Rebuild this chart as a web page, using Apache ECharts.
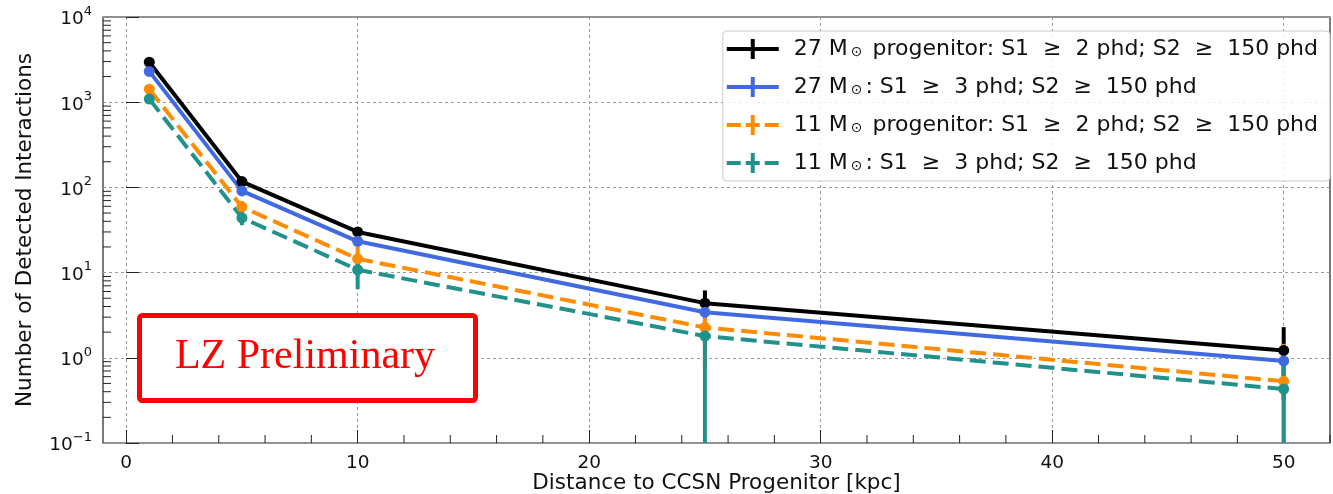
<!DOCTYPE html>
<html>
<head>
<meta charset="utf-8">
<script src="https://cdn.jsdelivr.net/npm/echarts@6/dist/echarts.min.js"></script>
<style>
  html, body { margin: 0; padding: 0; background: #fff; }
  #chart { width: 1333px; height: 494px; }
</style>
</head>
<body>
<div id="chart"></div>
<script>
// distance to the supernova, kpc
const distances = [1, 5, 10, 25, 50]

// 27 Msun progenitor, S1 >= 2 phd
const black = [2950, 117, 30, 4.38, 1.22]
const blackLo = [150, 12, 4, 1.5, 0.9]
const blackHi = [150, 12, 4, 1.8, 1.07]
// 27 Msun, S1 >= 3 phd
const blue = [2300, 91, 23.3, 3.43, 0.92]
const blueLo = [120, 9, 3, 1.2, 0.5]
const blueHi = [120, 9, 3, 0.9, 0.5]
// 11 Msun progenitor, S1 >= 2 phd
const orange = [1420, 59, 14.5, 2.27, 0.53]
const orangeLo = [100, 10, 5, 1.5, 0.5]
const orangeHi = [100, 10, 5.5, 0.7, 0.93]
// 11 Msun, S1 >= 3 phd
const teal = [1090, 44, 10.8, 1.8, 0.43]
const tealLo = [80, 8, 4.4, 1.8, 0.43]
const tealHi = [80, 9, 4, 0.5, 0.45]

const masses = ["27", "27", "11", "11"]
const cuts = [
  " progenitor: S1  \u2265  2 phd; S2  \u2265  150 phd",
  ": S1  \u2265  3 phd; S2  \u2265  150 phd",
  " progenitor: S1  \u2265  2 phd; S2  \u2265  150 phd",
  ": S1  \u2265  3 phd; S2  \u2265  150 phd",
]
const colors = ["#000000", "#4169e1", "#ff8c00", "#21918c"]

const xTicks = [0, 10, 20, 30, 40, 50]
const xMinorTicks = [2, 4, 6, 8, 12, 14, 16, 18, 22, 24, 26, 28, 32, 34, 36, 38, 42, 44, 46, 48, 52]
const yMin = 0.1
const yMax = 10000
// log minor ticks 2..9 x 10^k
const yMinorTicks = []
for (let k = -1; k < 4; k++) {
  for (let m = 2; m < 10; m++) yMinorTicks.push(+(m * Math.pow(10, k)).toPrecision(3))
}

const font = "DejaVu Sans"
const names = masses.map((m, i) => m + " M\u2299" + cuts[i])

const solidIcon = "path://M0,8h52v4h-52z M24,0h4v20h-4z"
const dashIcon = "path://M0,8h14v4h-14z M19,8h14v4h-14z M38,8h14v4h-14z M24,0h4v20h-4z"

const myChart = echarts.init(document.getElementById("chart"))

// 误差棒
const errorBars = (i, vals, lo, hi) => ({
  type: "custom",
  name: "err" + i,
  z: 2,
  silent: true,
  data: distances.map((d, j) => [d, vals[j], Math.max(vals[j] - lo[j], yMin), vals[j] + hi[j]]),
  encode: { x: 0, y: [1, 2, 3] },
  renderItem: (params, api) => {
    const top = api.coord([api.value(0), api.value(3)])
    const bot = api.coord([api.value(0), api.value(2)])
    return {
      type: "line",
      shape: { x1: top[0], y1: top[1], x2: bot[0], y2: bot[1] },
      style: { stroke: colors[i], lineWidth: 4 },
    }
  },
})

const lineSeries = (i, vals, dashed) => ({
  type: "line",
  name: names[i],
  z: 3,
  data: distances.map((d, j) => [d, vals[j]]),
  symbol: "circle",
  symbolSize: 11,
  itemStyle: { color: colors[i] },
  lineStyle: { color: colors[i], width: 4, type: dashed ? [16, 7] : "solid" },
  emphasis: { disabled: true },
})

// 次刻度
const minorTicks = {
  type: "custom",
  silent: true,
  z: 4,
  data: [
    ...yMinorTicks.map((v) => [1, v, 0]),
    ...xMinorTicks.map((v) => [v, 1, 1]),
  ],
  renderItem: (params, api) => {
    const cs = params.coordSys
    const p = api.coord([api.value(0), api.value(1)])
    const shape = api.value(2) === 0
      ? { x1: cs.x, y1: p[1], x2: cs.x + 8, y2: p[1] }
      : { x1: p[0], y1: cs.y + cs.height, x2: p[0], y2: cs.y + cs.height - 8 }
    return { type: "line", shape, style: { stroke: "#222", lineWidth: 1 } }
  },
}

const option = {
  animation: false,
  grid: {
    left: 103, right: 3, top: 17, bottom: 51,
    outerBoundsMode: "none",
    containLabel: false,
    show: true, borderColor: "#222", borderWidth: 1.2,
  },
  xAxis: {
    type: "value",
    min: -1,
    max: 52,
    name: "Distance to CCSN Progenitor [kpc]",
    nameLocation: "middle",
    nameGap: 29,
    nameMoveOverlap: false,
    nameTextStyle: { fontFamily: font, fontSize: 21.5, color: "#111" },
    axisLine: { show: false },
    axisTick: { inside: true, length: 13, customValues: xTicks, lineStyle: { color: "#222" } },
    axisLabel: { customValues: xTicks, fontFamily: font, fontSize: 18.5, color: "#111", margin: 11 },
    splitLine: { show: true, lineStyle: { color: "#999", type: [3, 3], width: 1 } },
  },
  yAxis: {
    type: "log",
    logBase: 10,
    min: yMin,
    max: yMax,
    name: "Number of Detected Interactions",
    nameLocation: "middle",
    nameGap: 67,
    nameMoveOverlap: false,
    nameTextStyle: { fontFamily: font, fontSize: 21.5, color: "#111" },
    axisLine: { show: false },
    axisTick: { inside: true, length: 13, lineStyle: { color: "#222" } },
    axisLabel: {
      margin: 11,
      formatter: (v) => {
        const e = Math.round(Math.log10(v))
        return "{b|10}{s|" + (e < 0 ? "\u2212" + -e : e) + "}"
      },
      rich: {
        b: { fontFamily: font, fontSize: 18.5, color: "#111", lineHeight: 24, verticalAlign: "bottom" },
        s: { fontFamily: font, fontSize: 13, color: "#111", lineHeight: 24, verticalAlign: "top" },
      },
    },
    splitLine: { show: true, lineStyle: { color: "#999", type: [3, 3], width: 1 } },
  },
  legend: {
    data: names.map((n, i) => ({ name: n, icon: i < 2 ? solidIcon : dashIcon })),
    orient: "vertical",
    right: 3,
    top: 31,
    itemWidth: 52,
    itemHeight: 20,
    itemGap: 16,
    padding: [7, 12, 7, 4],
    borderColor: "#ccc",
    borderWidth: 1,
    borderRadius: 4,
    backgroundColor: "rgba(255,255,255,0.85)",
    formatter: (name) => name.replace("M\u2299", "M{sun|\u2299}"),
    textStyle: {
      fontFamily: font,
      fontSize: 22,
      lineHeight: 20,
      color: "#111",
      padding: [0, 0, 0, 10],
      rich: {
        sun: { fontFamily: font, fontSize: 14, lineHeight: 14, color: "#111", padding: [6, 3, 0, 3], verticalAlign: "bottom" },
      },
    },
  },
  graphic: [
    {
      type: "rect",
      left: 137, top: 313,
      shape: { width: 336, height: 85, r: 3 },
      style: { fill: "#fff", stroke: "#ff0000", lineWidth: 5 },
      z: 10,
    },
    {
      type: "text",
      x: 305, y: 357,
      style: {
        text: "LZ Preliminary",
        fill: "#ff0000",
        font: "42px 'Liberation Serif'",
        align: "center",
        verticalAlign: "middle",
      },
      z: 11,
    },
  ],
  series: [
    errorBars(0, black, blackLo, blackHi),
    errorBars(1, blue, blueLo, blueHi),
    errorBars(2, orange, orangeLo, orangeHi),
    errorBars(3, teal, tealLo, tealHi),
    lineSeries(0, black, false),
    lineSeries(1, blue, false),
    lineSeries(2, orange, true),
    lineSeries(3, teal, true),
    minorTicks,
  ],
}

myChart.setOption(option)
</script>
</body>
</html>
